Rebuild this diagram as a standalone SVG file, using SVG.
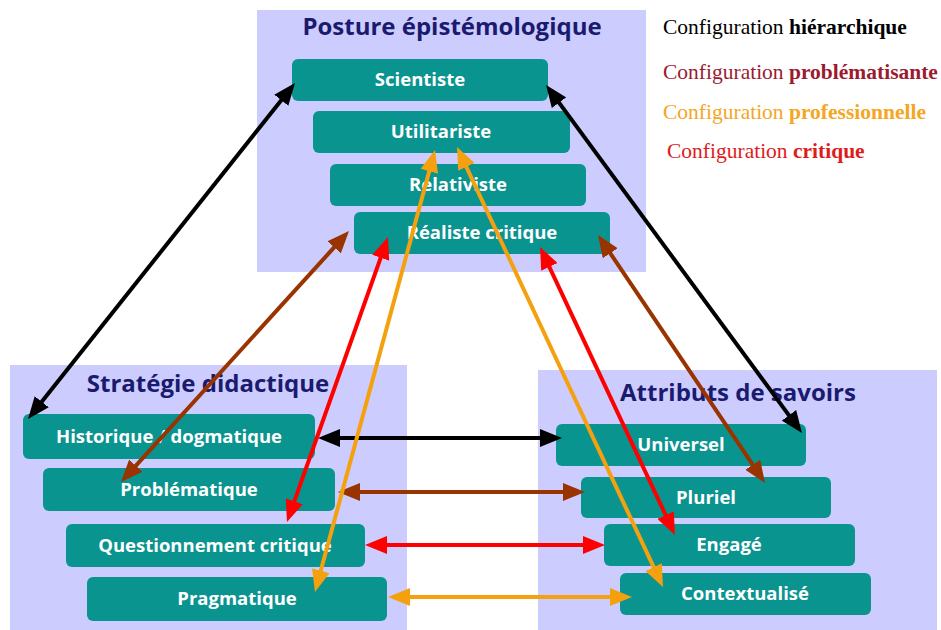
<svg xmlns="http://www.w3.org/2000/svg" width="941" height="630" viewBox="0 0 941 630">
<style>
.panel{fill:#ccccff}
.box{fill:#0a948f}
.bt{font-family:"Open Sans","Noto Sans",sans-serif;font-weight:bold;font-size:18.5px;fill:#ffffff;text-anchor:middle}
.title{font-family:"Open Sans","Noto Sans",sans-serif;font-weight:bold;font-size:24px;fill:#1a1a6e;text-anchor:middle}
.leg{font-family:"Liberation Serif",serif;font-size:21.5px}
.leg tspan.b{font-weight:bold}
.c{fill:none;stroke-width:4}
</style>
<defs>
<marker id="mk" viewBox="0 0 22 18" markerWidth="22" markerHeight="18" refX="15" refY="9" orient="auto-start-reverse" markerUnits="userSpaceOnUse"><path d="M0,0 L22,9 L0,18 z" fill="#000000"/></marker>
<marker id="mbr" viewBox="0 0 22 18" markerWidth="22" markerHeight="18" refX="15" refY="9" orient="auto-start-reverse" markerUnits="userSpaceOnUse"><path d="M0,0 L22,9 L0,18 z" fill="#993300"/></marker>
<marker id="mr" viewBox="0 0 22 18" markerWidth="22" markerHeight="18" refX="15" refY="9" orient="auto-start-reverse" markerUnits="userSpaceOnUse"><path d="M0,0 L22,9 L0,18 z" fill="#ff0000"/></marker>
<marker id="mo" viewBox="0 0 22 18" markerWidth="22" markerHeight="18" refX="15" refY="9" orient="auto-start-reverse" markerUnits="userSpaceOnUse"><path d="M0,0 L22,9 L0,18 z" fill="#f5a00f"/></marker>
</defs>
<rect width="941" height="630" fill="#ffffff"/>

<g id="panel-posture">
<rect class="panel" x="257" y="10" width="389" height="262"/>
<text class="title" x="452" y="35">Posture épistémologique</text>
</g>
<g id="panel-strategie">
<rect class="panel" x="10" y="365" width="397" height="265"/>
<text class="title" x="208" y="392">Stratégie didactique</text>
</g>
<g id="panel-attributs">
<rect class="panel" x="538" y="370" width="399" height="260"/>
<text class="title" x="738" y="401">Attributs de savoirs</text>
</g>

<g id="legend" class="leg">
<text x="663" y="34" fill="#000000">Configuration <tspan class="b">hiérarchique</tspan></text>
<text x="663" y="79" fill="#9b1b30">Configuration <tspan class="b">problématisante</tspan></text>
<text x="663" y="119" fill="#f5a623">Configuration <tspan class="b">professionnelle</tspan></text>
<text x="667" y="158" fill="#e01b1b">Configuration <tspan class="b">critique</tspan></text>
</g>

<g id="n-scientiste"><rect class="box" x="292" y="59" width="256" height="42" rx="6"/><text class="bt" x="420" y="86">Scientiste</text></g>
<g id="n-utilitariste"><rect class="box" x="313" y="111" width="257" height="42" rx="6"/><text class="bt" x="441" y="138">Utilitariste</text></g>
<g id="n-relativiste"><rect class="box" x="330" y="164" width="256" height="42" rx="6"/><text class="bt" x="458" y="191">Relativiste</text></g>
<g id="n-realiste"><rect class="box" x="354" y="212" width="256" height="42" rx="6"/><text class="bt" x="482" y="239">Réaliste critique</text></g>

<g id="n-historique"><rect class="box" x="23" y="414" width="292" height="45" rx="6"/><text class="bt" x="169" y="443">Historique / dogmatique</text></g>
<g id="n-problematique"><rect class="box" x="43" y="468" width="292" height="43" rx="6"/><text class="bt" x="189" y="496">Problématique</text></g>
<g id="n-questionnement"><rect class="box" x="66" y="524" width="299" height="43" rx="6"/><text class="bt" x="215" y="552">Questionnement critique</text></g>
<g id="n-pragmatique"><rect class="box" x="87" y="577" width="300" height="44" rx="6"/><text class="bt" x="237" y="605">Pragmatique</text></g>

<g id="n-universel"><rect class="box" x="556" y="424" width="250" height="42" rx="6"/><text class="bt" x="681" y="451">Universel</text></g>
<g id="n-pluriel"><rect class="box" x="581" y="477" width="250" height="41" rx="6"/><text class="bt" x="706" y="504">Pluriel</text></g>
<g id="n-engage"><rect class="box" x="604" y="524" width="251" height="42" rx="6"/><text class="bt" x="729" y="551">Engagé</text></g>
<g id="n-contextualise"><rect class="box" x="620" y="573" width="251" height="42" rx="6"/><text class="bt" x="745" y="600">Contextualisé</text></g>

<g id="connectors">
<line class="c" stroke="#000000" marker-start="url(#mk)" marker-end="url(#mk)" x1="290.6" y1="88.5" x2="32.4" y2="413.5"/>
<line class="c" stroke="#000000" marker-start="url(#mk)" marker-end="url(#mk)" x1="550.2" y1="90.6" x2="797.8" y2="427.4"/>
<line class="c" stroke="#000000" marker-start="url(#mk)" marker-end="url(#mk)" x1="325" y1="438" x2="555" y2="438"/>
<line class="c" stroke="#993300" marker-start="url(#mbr)" marker-end="url(#mbr)" x1="344.3" y1="236.2" x2="125.7" y2="476.8"/>
<line class="c" stroke="#993300" marker-start="url(#mbr)" marker-end="url(#mbr)" x1="601.9" y1="240.8" x2="761.1" y2="477.2"/>
<line class="c" stroke="#993300" marker-start="url(#mbr)" marker-end="url(#mbr)" x1="345" y1="492" x2="578" y2="492"/>
<line class="c" stroke="#ff0000" marker-start="url(#mr)" marker-end="url(#mr)" x1="385.7" y1="243.6" x2="289.3" y2="515.4"/>
<line class="c" stroke="#ff0000" marker-start="url(#mr)" marker-end="url(#mr)" x1="543" y1="253.3" x2="672" y2="528.7"/>
<line class="c" stroke="#ff0000" marker-start="url(#mr)" marker-end="url(#mr)" x1="372" y1="545" x2="598" y2="545"/>
<line class="c" stroke="#f5a00f" marker-start="url(#mo)" marker-end="url(#mo)" x1="433.2" y1="156.8" x2="316.8" y2="585.2"/>
<line class="c" stroke="#f5a00f" marker-start="url(#mo)" marker-end="url(#mo)" x1="460" y1="153.3" x2="660" y2="580.7"/>
<line class="c" stroke="#f5a00f" marker-start="url(#mo)" marker-end="url(#mo)" x1="395" y1="597" x2="625" y2="597"/>
</g>
</svg>
